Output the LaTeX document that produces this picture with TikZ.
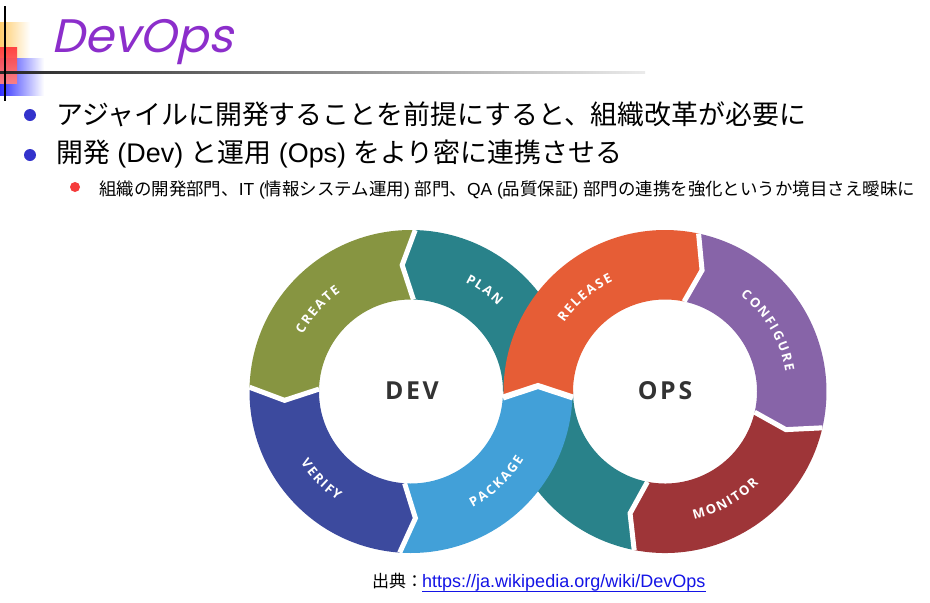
\documentclass[tikz,border=0pt]{standalone}
\usepackage{fontspec}
\setmainfont{Liberation Sans}
\newfontfamily\cjk{Noto Sans CJK JP}
\newfontfamily\osans{Open Sans}
\newfontfamily\titlefont{Poppins}[FakeSlant=0.22]
\usetikzlibrary{calc}

\definecolor{cPlan}{RGB}{41,130,138}
\definecolor{cCreate}{RGB}{135,149,65}
\definecolor{cVerify}{RGB}{60,74,158}
\definecolor{cPackage}{RGB}{66,160,216}
\definecolor{cRelease}{RGB}{230,93,54}
\definecolor{cConfig}{RGB}{135,100,168}
\definecolor{cMonitor}{RGB}{158,53,56}
\definecolor{cTitle}{RGB}{140,46,203}
\definecolor{cBullet}{RGB}{51,51,204}
\definecolor{cSub}{RGB}{245,60,60}
\definecolor{cUrl}{RGB}{20,20,230}
\definecolor{cDark}{RGB}{51,51,51}
\definecolor{cYel}{RGB}{255,205,110}
\definecolor{cBlu}{RGB}{50,50,255}
\definecolor{cRed}{RGB}{255,60,60}

\newcommand\lblfont{\osans\bfseries\fontsize{13}{13}\selectfont}
\def\lblsp{2.2}
\def\lblcap{9.3}
\def\rin{92}\def\rout{161.5}\def\rmid{126.75}

% advance widths of the label letters (Open Sans Bold, 13pt)
\def\lwdef#1#2{\expandafter\def\csname lw#1\endcsname{#2}}
\lwdef A{8.63}\lwdef C{8.16}\lwdef E{6.86}\lwdef F{6.63}\lwdef G{9.33}
\lwdef I{3.96}\lwdef K{8.28}\lwdef L{6.81}\lwdef M{11.7}\lwdef N{9.88}
\lwdef O{10.14}\lwdef P{7.74}\lwdef R{8.18}\lwdef S{7.07}\lwdef T{7.27}
\lwdef U{9.67}\lwdef V{8.15}\lwdef Y{7.66}

% #1 colour, #2 start angle, #3 start tip offset, #4 end angle, #5 end tip offset
\newcommand\seg[5]{%
  \fill[#1] (#2:\rin pt) -- (#2+#3:\rmid pt) -- (#2:\rout pt)
    arc[start angle=#2, end angle=#4, radius=\rout pt]
    -- (#4+#5:\rmid pt) -- (#4:\rin pt)
    arc[start angle=#4, end angle=#2, radius=\rin pt] -- cycle;}
\newcommand\gap[2]{\draw[gapline] (#1:\rin pt) -- (#1+#2:\rmid pt) -- (#1:\rout pt);}

% curved labels: letters placed one by one
\def\lblmeasure#1{\ifx#1\relax\else
  \edef\lblw{\csname lw#1\endcsname}%
  \pgfmathsetmacro\lbltot{\lbltot+\lblw+\lblsp}%
  \expandafter\lblmeasure\fi}
\def\lblplace#1{\ifx#1\relax\else
  \edef\lblw{\csname lw#1\endcsname}%
  \pgfmathsetmacro\lbla{\lblc+(\lbld)*(\lblcum+\lblw/2-\lbltot/2)/\lblr*180/pi}%
  \pgfmathsetmacro\lblrot{\lbla+(\lbld)*90}%
  \node[lbl, rotate=\lblrot] (L#1) at (\lbla:\lblr pt) {#1};
  \pgfmathsetmacro\lblcum{\lblcum+\lblw+\lblsp}%
  \expandafter\lblplace\fi}
% #1 word, #2 centre angle, #3 direction (-1 clockwise reading, +1 counter-clockwise)
\newcommand\arclabel[3]{%
  \def\lblc{#2}\def\lbld{#3}\def\lbltot{0}%
  \lblmeasure#1\relax
  \pgfmathsetmacro\lbltot{\lbltot-\lblsp}%
  \pgfmathsetmacro\lblr{\rmid+(#3)*\lblcap/2}%
  \def\lblcum{0}%
  \lblplace#1\relax}

\tikzset{
  gapline/.style={draw=white, line width=5pt, line join=miter},
  lbl/.style={font=\lblfont, text=white, inner sep=0pt, anchor=base},
  txt/.style={inner sep=0pt, anchor=base west},
  hub/.style={font=\osans\bfseries\fontsize{24.8}{25}\selectfont, text=cDark, inner sep=0pt},
  dot/.style={circle, fill=#1, inner sep=0pt},
}

\begin{document}
\begin{tikzpicture}[x=1pt, y=1pt]
\useasboundingbox (0,0) rectangle (930,-603);
\fill[white] (0,0) rectangle (930,-603);

% ---- title decoration
\shade[left color=cYel, right color=white] (0,-22) rectangle (30,-57);
\shade[left color=cBlu, right color=white] (0,-58) rectangle (44,-95);
\shade[top color=cRed, bottom color=cRed!65!white, opacity=0.95] (0,-47) rectangle (17,-83);
\shade[left color=black!85, right color=black!8] (0,-71) rectangle (645,-73.2);
\draw[line width=1.6pt] (5,-6) -- (5,-101);
\node[txt, text=cTitle, font=\titlefont\fontsize{47}{47}\selectfont] (title) at (51,-52.5) {DevOps};

% ---- bullets
\node[dot=cBullet, minimum size=12pt] (b1) at (30,-115) {};
\node[dot=cBullet, minimum size=12pt] (b2) at (30,-155) {};
\node[dot=cSub, minimum size=10pt] (b3) at (75,-187) {};
\node[txt, font=\fontsize{26.9}{30}\selectfont] (t1) at (56,-124)
  {{\cjk アジャイルに開発することを前提にすると、組織改革が必要に}};
\node[txt, font=\fontsize{26.9}{30}\selectfont] (t2) at (56,-162)
  {{\cjk 開発} (Dev) {\cjk と運用} (Ops) {\cjk をより密に連携させる}};
\node[txt, font=\fontsize{17.45}{20}\selectfont] (t3) at (99,-195.5)
  {{\cjk 組織の開発部門、}IT ({\cjk 情報システム運用}) {\cjk 部門、}QA ({\cjk 品質保証}) {\cjk 部門の連携を強化というか境目さえ曖昧に}};

% ---- infinity loop
\coordinate (dev) at (411,-391.5);
\coordinate (ops) at (665,-391.5);
\coordinate (pkL) at (503,-397.5);
\coordinate (pkM) at (538,-386);
\coordinate (pkR) at (573,-397.5);

\begin{scope}[shift={(dev)}]
  \seg{cPlan}{0}{0}{88.5}{5.5}
\end{scope}
\begin{scope}[shift={(ops)}]
  \seg{cPlan}{-101}{-5}{-180}{0}
\end{scope}
\begin{scope}[shift={(dev)}]
  \seg{cCreate}{88.5}{5.5}{178.5}{5.5}
  \seg{cVerify}{178.5}{5.5}{266}{6}
\end{scope}
\begin{scope}[shift={(ops)}]
  \seg{cConfig}{78}{-5}{-13}{-4.5}
  \seg{cMonitor}{-13}{-4.5}{-101}{-5}
\end{scope}
\begin{scope}[shift={(dev)}]
  \fill[cPackage] (266:\rin pt) -- (272:\rmid pt) -- (266:\rout pt)
    arc[start angle=266, end angle=357.9, radius=\rout pt]
    -- (pkM) -- (pkL) -- (-3.6:\rin pt)
    arc[start angle=-3.6, end angle=-94, radius=\rin pt] -- cycle;
\end{scope}
\begin{scope}[shift={(ops)}]
  \fill[cRelease] (183.6:\rin pt) -- (pkR) -- (pkM) -- (pkL) -- (182.1:\rout pt)
    arc[start angle=182.1, end angle=78, radius=\rout pt]
    -- (73:\rmid pt) -- (78:\rin pt)
    arc[start angle=78, end angle=183.6, radius=\rin pt] -- cycle;
\end{scope}

% gaps
\begin{scope}[shift={(dev)}]
  \gap{88.5}{5.5}
  \gap{178.5}{5.5}
  \gap{266}{6}
\end{scope}
\begin{scope}[shift={(ops)}]
  \gap{78}{-5}
  \gap{-13}{-4.5}
  \gap{-101}{-5}
\end{scope}
\draw[gapline, line width=6pt] (pkL) -- (pkM) -- (pkR);

% labels
\begin{scope}[shift={(dev)}]
  \arclabel{PLAN}{54.2}{-1}
  \arclabel{CREATE}{138.8}{-1}
  \arclabel{VERIFY}{224.4}{1}
  \arclabel{PACKAGE}{-46.5}{1}
\end{scope}
\begin{scope}[shift={(ops)}]
  \arclabel{RELEASE}{130.5}{-1}
  \arclabel{CONFIGURE}{30.6}{-1}
  \arclabel{MONITOR}{-60.8}{1}
\end{scope}

\node[hub] (devlbl) at (412,-390.5) {D\kern2.7ptE\kern2.7ptV};
\node[hub] (opslbl) at (665,-390.5) {O\kern2.7ptP\kern2.7ptS};

% ---- source
\node[txt, font=\fontsize{17}{20}\selectfont] (src) at (372,-587) {{\cjk 出典：}};
\node[txt, text=cUrl, font=\fontsize{18}{20}\selectfont] (url) at (422,-587) {https://ja.wikipedia.org/wiki/DevOps};
\draw[cUrl, line width=1.8pt] ([yshift=-4.5pt]url.base west) -- ([yshift=-4.5pt]url.base east);
\end{tikzpicture}
\end{document}
